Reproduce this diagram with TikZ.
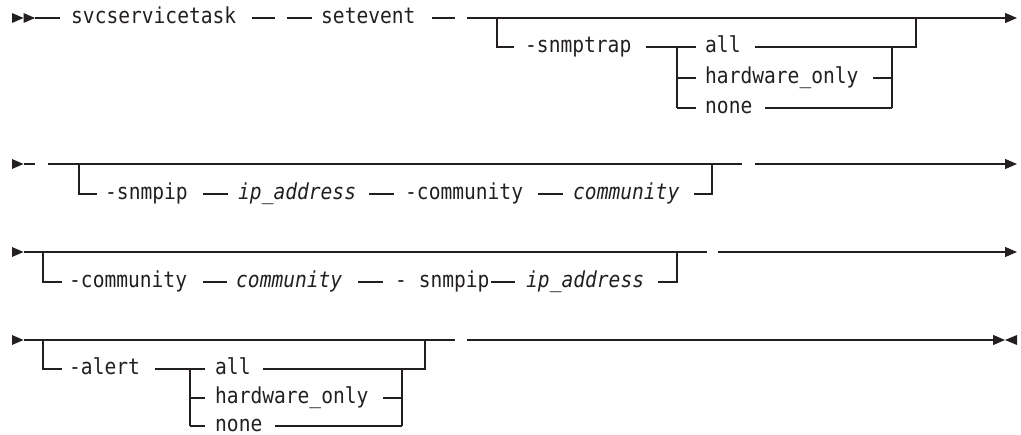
\documentclass[tikz,border=0pt]{standalone}
\usepackage{fontspec}
\newfontfamily\rrfont[FakeStretch=0.89]{DejaVu Sans Mono}
\usetikzlibrary{arrows.meta}
\definecolor{ink}{HTML}{231F20}
\tikzset{
  rail/.style={draw=ink, line width=1.1pt},
  endarrow/.style={rail, -{Triangle[length=12pt,width=10pt]}},
  kw/.style={font={\rrfont\fontsize{22}{26}\selectfont}, text=ink, inner sep=0pt, anchor=base west, yshift=-6pt},
  var/.style={kw, font={\rrfont\itshape\fontsize{22}{26}\selectfont}},
  marker/.style={fill=ink},
}
\begin{document}
\begin{tikzpicture}[x=1pt,y=-1pt]
\useasboundingbox (0,0) rectangle (1021,435);

% ================= Row 1 =================
\fill[marker] (12,13) -- (23.5,18) -- (12,23) -- cycle;
\fill[marker] (23.5,13) -- (35,18) -- (23.5,23) -- cycle;
\coordinate (r1s) at (35,18);
\coordinate (r1s2) at (60,18);
\draw[rail] (r1s) -- (r1s2);
\node[kw] (svc) at (71,18) {svcservicetask};
\coordinate (d1a) at (252,18); \coordinate (d1b) at (275,18);
\coordinate (d2a) at (287,18); \coordinate (d2b) at (312,18);
\draw[rail] (d1a) -- (d1b);
\draw[rail] (d2a) -- (d2b);
\node[kw] (setev) at (321,18) {setevent};
\coordinate (d3a) at (432,18); \coordinate (d3b) at (455,18);
\draw[rail] (d3a) -- (d3b);
\coordinate (m1a) at (467,18);
\coordinate (m1e) at (1017,18);
\draw[endarrow] (m1a) -- (m1e);
% optional branch
\coordinate (b1top) at (497,18);
\coordinate (b1bot) at (497,47);
\coordinate (b1in) at (514,47);
\draw[rail] (b1top) -- (b1bot) -- (b1in);
\node[kw] (snmptrap) at (525,47) {-snmptrap};
\coordinate (c1l) at (646,47);
\coordinate (c1j) at (677,47);
\coordinate (c1jb) at (677,108);
\draw[rail] (c1l) -- (696,47);
\draw[rail] (c1j) -- (c1jb);
\draw[rail] (677,78) -- (696,78);
\draw[rail] (c1jb) -- (696,108);
\node[kw] (t1all) at (705,47) {all};
\node[kw] (t1hw) at (705,78) {hardware\_only};
\node[kw] (t1none) at (705,108) {none};
\coordinate (c1r) at (892,47);
\coordinate (c1rb) at (892,108);
\coordinate (c1up) at (916,47);
\coordinate (c1upt) at (916,18);
\draw[rail] (755,47) -- (c1up) -- (c1upt);
\draw[rail] (873,78) -- (892,78);
\draw[rail] (765,108) -- (c1rb);
\draw[rail] (c1r) -- (c1rb);

% ================= Row 2 =================
\fill[marker] (12,159) -- (23.5,164) -- (12,169) -- cycle;
\draw[rail] (23.5,164) -- (35,164);
\coordinate (m2a) at (48,164);
\coordinate (m2b) at (742,164);
\draw[rail] (m2a) -- (m2b);
\coordinate (m2c) at (755,164);
\coordinate (m2e) at (1017,164);
\draw[endarrow] (m2c) -- (m2e);
\coordinate (b2top) at (79,164);
\coordinate (b2bot) at (79,194);
\draw[rail] (b2top) -- (b2bot) -- (97,194);
\node[kw] (snmpip1) at (105,194) {-snmpip};
\draw[rail] (203,194) -- (228,194);
\node[var] (ip1) at (238,194) {ip\_address};
\draw[rail] (369,194) -- (394,194);
\node[kw] (comm1) at (405,194) {-community};
\draw[rail] (538,194) -- (563,194);
\node[var] (commv1) at (573,194) {community};
\coordinate (b2end) at (712,194);
\coordinate (b2endt) at (712,164);
\draw[rail] (694,194) -- (b2end) -- (b2endt);

% ================= Row 3 =================
\fill[marker] (12,247) -- (23.5,252) -- (12,257) -- cycle;
\coordinate (m3a) at (23.5,252);
\coordinate (m3b) at (707,252);
\draw[rail] (m3a) -- (m3b);
\coordinate (m3c) at (718,252);
\coordinate (m3e) at (1017,252);
\draw[endarrow] (m3c) -- (m3e);
\coordinate (b3top) at (43,252);
\coordinate (b3bot) at (43,282);
\draw[rail] (b3top) -- (b3bot) -- (62,282);
\node[kw] (comm2) at (69,282) {-community};
\draw[rail] (203,282) -- (227,282);
\node[var] (commv2) at (236,282) {community};
\draw[rail] (358,282) -- (383,282);
\node[kw] (snmpip2) at (395,282) {- snmpip};
\draw[rail] (491,282) -- (515,282);
\node[var] (ip2) at (526,282) {ip\_address};
\coordinate (b3end) at (677,282);
\coordinate (b3endt) at (677,252);
\draw[rail] (658,282) -- (b3end) -- (b3endt);

% ================= Row 4 =================
\fill[marker] (12,335) -- (23.5,340) -- (12,345) -- cycle;
\coordinate (m4a) at (23.5,340);
\coordinate (m4b) at (455,340);
\draw[rail] (m4a) -- (m4b);
\coordinate (m4c) at (467,340);
\coordinate (m4e) at (1005,340);
\draw[rail, line width=1.6pt] (m4c) -- (490,340);
\draw[endarrow] (m4c) -- (m4e);
\fill[marker] (1017,335) -- (1005,340) -- (1017,345) -- cycle;
\coordinate (b4top) at (43,340);
\coordinate (b4bot) at (43,369);
\draw[rail] (b4top) -- (b4bot) -- (62,369);
\node[kw] (alert) at (69,369) {-alert};
\coordinate (c4j) at (190,369);
\coordinate (c4jb) at (190,426);
\draw[rail] (155,369) -- (205,369);
\draw[rail] (c4j) -- (c4jb);
\draw[rail] (190,398) -- (205,398);
\draw[rail] (c4jb) -- (205,426);
\node[kw] (t4all) at (215,369) {all};
\node[kw] (t4hw) at (215,398) {hardware\_only};
\node[kw] (t4none) at (215,426) {none};
\coordinate (c4r) at (402,369);
\coordinate (c4rb) at (402,426);
\coordinate (c4up) at (425,369);
\coordinate (c4upt) at (425,340);
\draw[rail] (263,369) -- (c4up) -- (c4upt);
\draw[rail] (383,398) -- (402,398);
\draw[rail] (275,426) -- (c4rb);
\draw[rail] (c4r) -- (c4rb);
\end{tikzpicture}
\end{document}
